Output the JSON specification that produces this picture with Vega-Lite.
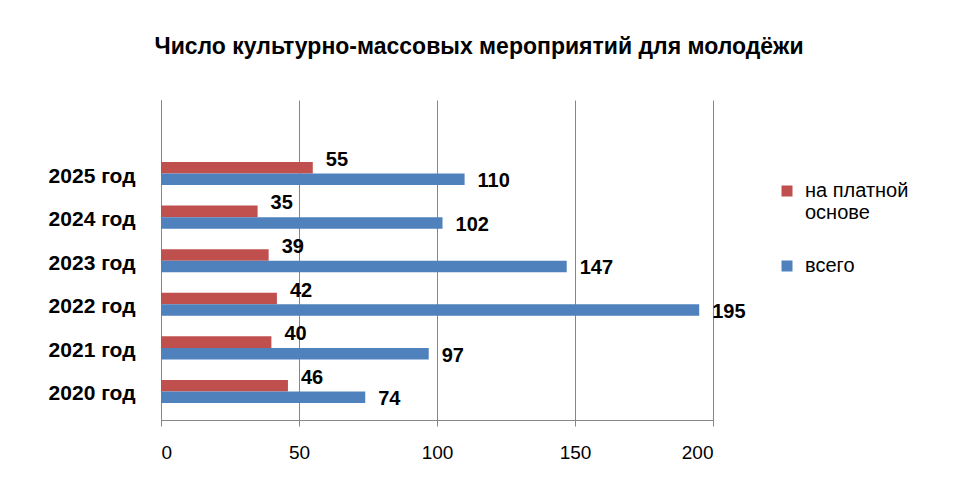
{
  "$schema": "https://vega.github.io/schema/vega-lite/v6.json",
  "autosize": {"type": "none"},
  "width": 552,
  "height": 320,
  "padding": {"left": 161, "top": 100, "right": 247, "bottom": 60},
  "background": "white",
  "title": {
    "text": "Число культурно-массовых мероприятий  для молодёжи",
    "font": "Liberation Sans",
    "fontSize": 23,
    "fontWeight": "bold",
    "color": "#000000",
    "anchor": "middle",
    "dx": 42,
    "offset": 41
  },
  "data": {
    "values": [
      {"year": "2025 год", "series": "на платной основе", "value": 55},
      {"year": "2025 год", "series": "всего", "value": 110},
      {"year": "2024 год", "series": "на платной основе", "value": 35},
      {"year": "2024 год", "series": "всего", "value": 102},
      {"year": "2023 год", "series": "на платной основе", "value": 39},
      {"year": "2023 год", "series": "всего", "value": 147},
      {"year": "2022 год", "series": "на платной основе", "value": 42},
      {"year": "2022 год", "series": "всего", "value": 195},
      {"year": "2021 год", "series": "на платной основе", "value": 40},
      {"year": "2021 год", "series": "всего", "value": 97},
      {"year": "2020 год", "series": "на платной основе", "value": 46},
      {"year": "2020 год", "series": "всего", "value": 74}
    ]
  },
  "encoding": {
    "y": {
      "field": "year",
      "type": "nominal",
      "sort": ["2025 год", "2024 год", "2023 год", "2022 год", "2021 год", "2020 год"],
      "scale": {"paddingInner": 0.47, "paddingOuter": 0.906, "align": 0.785},
      "axis": {
        "title": null,
        "labelFont": "Liberation Sans",
        "labelFontSize": 21,
        "labelFontWeight": "bold",
        "labelColor": "#000000",
        "labelPadding": 26,
        "labelOffset": 3,
        "ticks": false,
        "domainColor": "#868686",
        "grid": false
      }
    },
    "yOffset": {
      "field": "series",
      "type": "nominal",
      "sort": ["на платной основе", "всего"],
      "scale": {"paddingInner": 0, "paddingOuter": 0}
    },
    "x": {
      "field": "value",
      "type": "quantitative",
      "scale": {"domain": [0, 200], "nice": false},
      "axis": {
        "title": null,
        "values": [0, 50, 100, 150, 200],
        "labelFont": "Liberation Sans",
        "labelFontSize": 19,
        "labelColor": "#000000",
        "labelPadding": 17,
        "tickColor": "#868686",
        "tickSize": 6,
        "domainColor": "#868686",
        "grid": true,
        "gridColor": "#868686",
        "gridWidth": 1
      }
    }
  },
  "layer": [
    {
      "mark": {"type": "bar", "stroke": null},
      "encoding": {
        "color": {
          "field": "series",
          "type": "nominal",
          "sort": ["на платной основе", "всего"],
          "scale": {"domain": ["на платной основе", "всего"], "range": ["#C0504D", "#4F81BD"]},
          "legend": {
            "title": null,
            "orient": "none",
            "legendX": 616,
            "legendY": 81,
            "symbolType": "square",
            "symbolSize": 121,
            "symbolStrokeWidth": 0,
            "labelFont": "Liberation Sans",
            "labelFontSize": 20,
            "labelColor": "#000000",
            "labelLimit": 200,
            "labelOffset": 8,
            "rowPadding": 33,
            "labelExpr": "datum.label == 'на платной основе' ? ['на платной', 'основе'] : datum.label"
          }
        }
      }
    },
    {
      "transform": [{"filter": "datum.series == 'на платной основе'"}],
      "mark": {"type": "text", "align": "left", "baseline": "middle", "dx": 13, "dy": -8, "font": "Liberation Sans", "fontSize": 20, "fontWeight": "bold", "color": "#000000"},
      "encoding": {"text": {"field": "value", "type": "quantitative"}}
    },
    {
      "transform": [{"filter": "datum.series == 'всего'"}],
      "mark": {"type": "text", "align": "left", "baseline": "middle", "dx": 13, "dy": 2, "font": "Liberation Sans", "fontSize": 20, "fontWeight": "bold", "color": "#000000"},
      "encoding": {"text": {"field": "value", "type": "quantitative"}}
    }
  ],
  "config": {"view": {"stroke": null}}
}
